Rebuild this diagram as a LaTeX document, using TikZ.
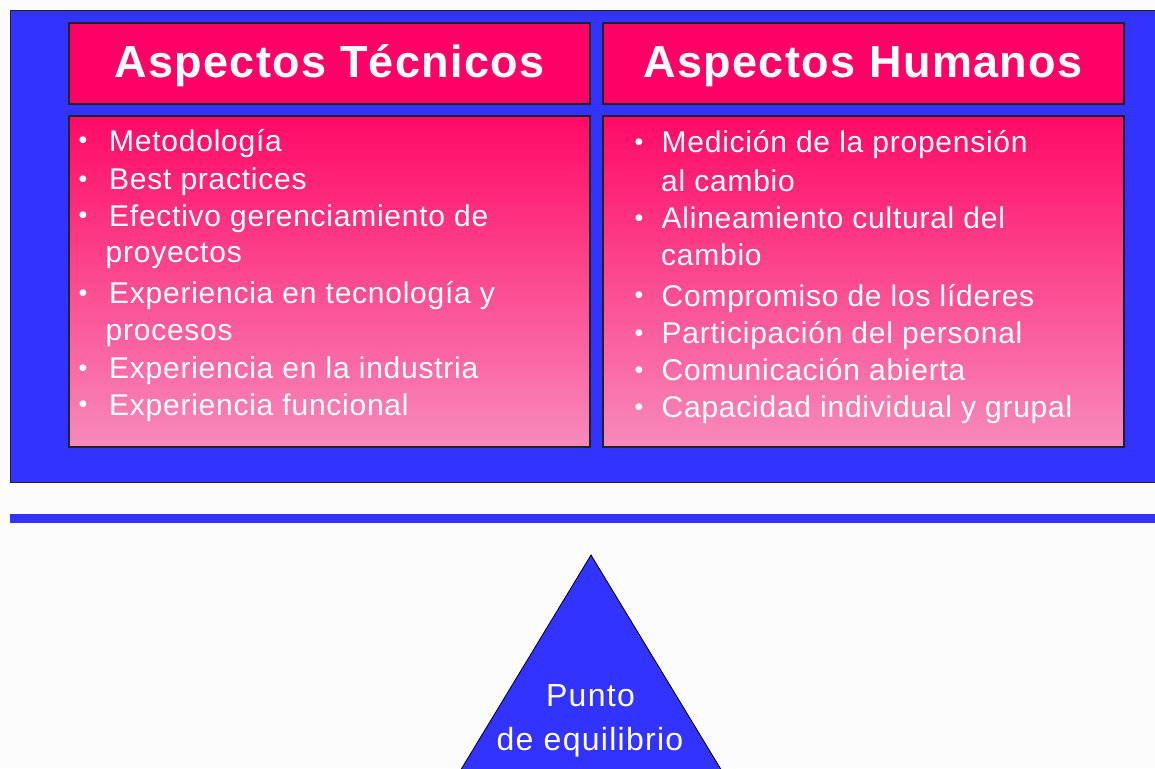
\documentclass[tikz,border=0pt]{standalone}
\usepackage{fontspec}
\setmainfont{Liberation Sans}
\newfontfamily\bodyfont[LetterSpace=2.5]{Liberation Sans}
\newfontfamily\headfont[LetterSpace=3]{Liberation Sans}
\definecolor{bgwhite}{HTML}{FCFCFC}
\definecolor{panelblue}{HTML}{3333FF}
\definecolor{headpink}{HTML}{FF0066}
\definecolor{pinktop}{HTML}{FF0A66}
\definecolor{pinkbot}{HTML}{F78ABB}
\definecolor{edgedark}{HTML}{222222}
\tikzset{
  headbox/.style={fill=headpink, draw=edgedark, line width=1.3pt},
  bodybox/.style={top color=pinktop, bottom color=pinkbot, draw=edgedark, line width=1.3pt},
  headtxt/.style={text=white, inner sep=0pt, anchor=base, font=\headfont\bfseries\fontsize{45}{52}\selectfont},
  itemtxt/.style={text=white, inner sep=0pt, anchor=base west, font=\bodyfont\fontsize{30}{36}\selectfont},
  bul/.style={text=white, inner sep=0pt, anchor=base, yshift=2.2pt, font=\bodyfont\fontsize{25}{30}\selectfont},
  tritxt/.style={text=white, inner sep=0pt, anchor=base, font=\bodyfont\addfontfeature{LetterSpace=4}\fontsize{32}{40}\selectfont}
}
\begin{document}
\begin{tikzpicture}[x=1pt,y=-1pt]
\useasboundingbox (0,0) rectangle (1155,768);
\clip (0,0) rectangle (1155,768);
\fill[bgwhite] (0,0) rectangle (1155,768);
% blue panel
\draw[fill=panelblue, draw=edgedark, line width=1pt] (10,11) rectangle (1170,482);
% blue separator line
\fill[panelblue] (10,514) rectangle (1170,523);
% header boxes
\draw[headbox] (69,23) rectangle (590,104);
\draw[headbox] (603,23) rectangle (1124,104);
% content boxes
\shadedraw[bodybox] (69,116) rectangle (590,447);
\shadedraw[bodybox] (603,116) rectangle (1124,447);
% headers
\node[headtxt] (htec) at (329.5,77.3) {Aspectos Técnicos};
\node[headtxt] (hhum) at (863,77.3) {Aspectos Humanos};
% left items
\node[bul] (bl1) at (83,151) {•};
\node[itemtxt] (l1) at (109,151) {Metodología};
\node[bul] (bl2) at (83,189.3) {•};
\node[itemtxt] (l2) at (109,189.3) {Best practices};
\node[bul] (bl3) at (83,226) {•};
\node[itemtxt] (l3) at (109,226) {Efectivo gerenciamiento de};
\node[itemtxt] (l3b) at (105.5,262.7) {proyectos};
\node[bul] (bl4) at (83,303.3) {•};
\node[itemtxt] (l4) at (109,303.3) {Experiencia en tecnología y};
\node[itemtxt] (l4b) at (105.5,340.7) {procesos};
\node[bul] (bl5) at (83,378.3) {•};
\node[itemtxt] (l5) at (109,378.3) {Experiencia en la industria};
\node[bul] (bl6) at (83,415) {•};
\node[itemtxt] (l6) at (109,415) {Experiencia funcional};
% right items
\node[bul] (br1) at (639,152.7) {•};
\node[itemtxt] (r1) at (661.5,152.7) {Medición de la propensión};
\node[itemtxt] (r1b) at (661,191) {al cambio};
\node[bul] (br2) at (639,228.7) {•};
\node[itemtxt] (r2) at (661.5,228.7) {Alineamiento cultural del};
\node[itemtxt] (r2b) at (661,265) {cambio};
\node[bul] (br3) at (639,306) {•};
\node[itemtxt] (r3) at (661.5,306) {Compromiso de los líderes};
\node[bul] (br4) at (639,343.3) {•};
\node[itemtxt] (r4) at (661.5,343.3) {Participación del personal};
\node[bul] (br5) at (639,380.7) {•};
\node[itemtxt] (r5) at (661.5,380.7) {Comunicación abierta};
\node[bul] (br6) at (639,417.3) {•};
\node[itemtxt] (r6) at (661.5,417.3) {Capacidad individual y grupal};
% triangle
\draw[fill=panelblue, draw=black, line width=0.8pt] (591,555) -- (442.5,800) -- (739.5,800) -- cycle;
\node[tritxt] (t1) at (590.5,706.7) {Punto};
\node[tritxt] (t2) at (590,750) {de equilibrio};
\end{tikzpicture}
\end{document}
